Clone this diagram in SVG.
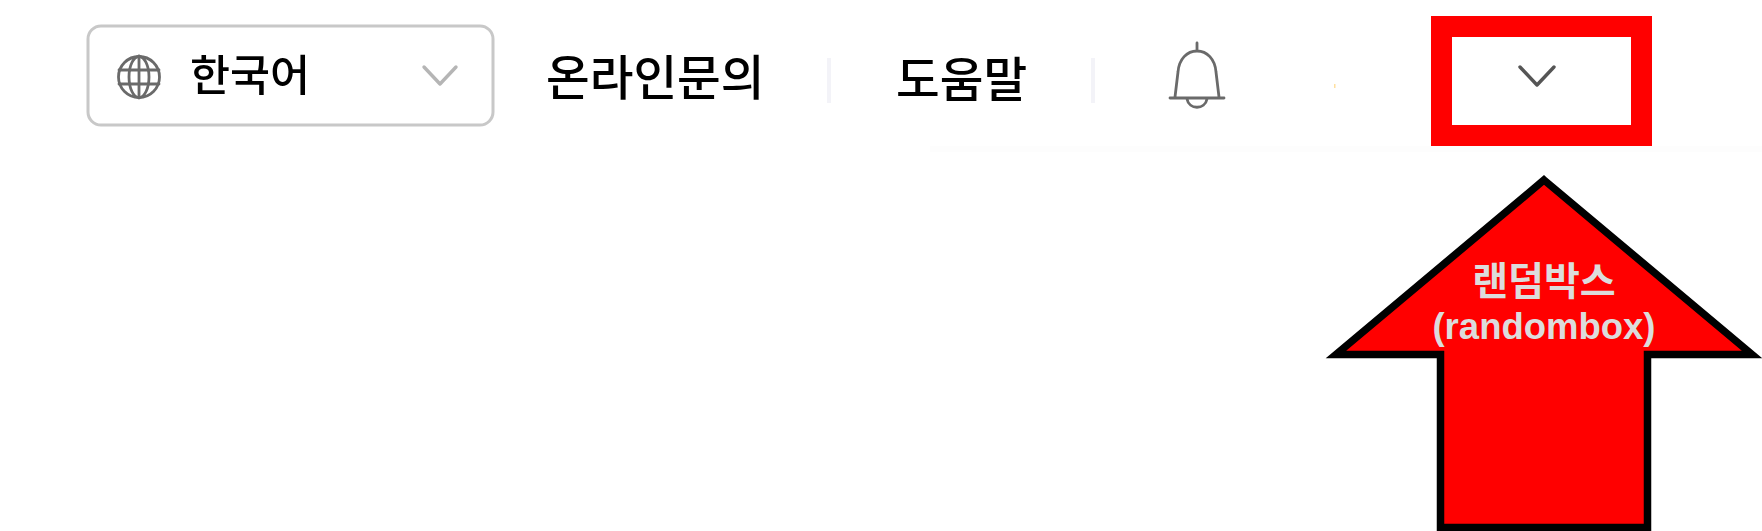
<svg xmlns="http://www.w3.org/2000/svg" width="1762" height="531" viewBox="0 0 1762 531">
<defs>
<filter id="soft" x="-10%" y="-10%" width="120%" height="120%"><feGaussianBlur stdDeviation="0.7"/></filter>
</defs>
<style>
.ui{font-family:"Noto Sans CJK KR","Noto Sans",sans-serif;fill:#000;font-weight:500;}
.icon{fill:none;stroke:#6a6a6a;stroke-width:2.8;stroke-linecap:round;stroke-linejoin:round;}
.lbl{font-family:"Liberation Sans","Noto Sans CJK KR",sans-serif;font-weight:700;fill:#dcdcdc;text-anchor:middle;}
.sep{fill:#f3f3f8;}
</style>
<rect width="1762" height="531" fill="#ffffff"/>
<path d="M930 146H1762V152H930Z" fill="#fdfdfd"/>
<g id="language-select" filter="url(#soft)">
<rect x="88" y="26" width="405" height="99" rx="13" fill="#fff" stroke="#c8c8c8" stroke-width="3"/>
<g class="icon">
<circle cx="139" cy="77" r="20.5"/>
<ellipse cx="139" cy="77" rx="10" ry="20.5"/>
<path d="M139 56V98M119 70H159M119 84H159"/>
</g>
<text class="ui" x="190" y="91" font-size="43.5">한국어</text>
<path d="M424 67L440 84L456 67" fill="none" stroke="#b5b5b5" stroke-width="3.4" stroke-linecap="round" stroke-linejoin="round"/>
</g>
<g id="online-inquiry" filter="url(#soft)"><text class="ui" x="546" y="95" font-size="47.5">온라인문의</text></g>
<g id="separator-1"><rect class="sep" x="827" y="58" width="4" height="45"/></g>
<g id="help" filter="url(#soft)"><text class="ui" x="896" y="97" font-size="47.5">도움말</text></g>
<g id="separator-2"><rect class="sep" x="1091" y="58" width="4" height="45"/></g>
<g id="bell" filter="url(#soft)">
<path class="icon" d="M1197 43V51M1175 97L1178 72C1179 59 1187 51 1197 51C1207 51 1215 59 1216 72L1219 97M1170 98H1224M1187 99C1189 110 1205 110 1207 99"/>
</g>
<rect id="speck" x="1334" y="84" width="1.5" height="4" fill="#ffe0a0"/>
<g id="randombox-highlight">
<rect x="1441.5" y="26.5" width="200" height="109" fill="#fff" stroke="#ff0000" stroke-width="21"/>
<path d="M1520 67L1537 85L1554 67" fill="none" stroke="#555" stroke-width="3.4" stroke-linecap="round" stroke-linejoin="round" filter="url(#soft)"/>
</g>
<g id="connectors">
<path d="M1544 180L1752 354.5H1647.5V527.5H1440.5V354.5H1336Z" fill="#ff0000" stroke="#000" stroke-width="7.5"/>
</g>
<g id="randombox-label">
<text class="lbl" x="1544" y="295" font-size="39" font-family="Noto Sans CJK KR">랜덤박스</text>
<text class="lbl" x="1544" y="339" font-size="36.5">(randombox)</text>
</g>
</svg>
